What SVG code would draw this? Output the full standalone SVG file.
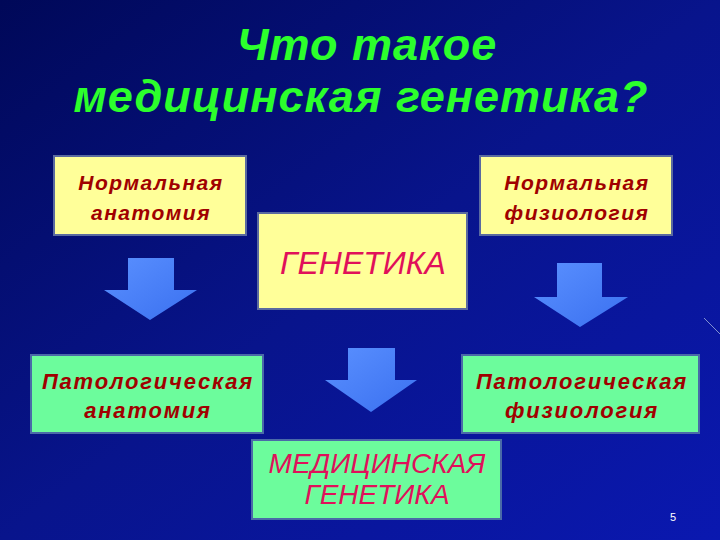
<svg xmlns="http://www.w3.org/2000/svg" width="720" height="540" viewBox="0 0 720 540">
<defs>
<linearGradient id="bg" x1="0" y1="0" x2="1" y2="1">
<stop offset="0" stop-color="#000858"/>
<stop offset="0.5" stop-color="#08148c"/>
<stop offset="1" stop-color="#0a18b0"/>
</linearGradient>
<linearGradient id="arr" x1="0" y1="0" x2="1" y2="1">
<stop offset="0" stop-color="#5a90ff"/>
<stop offset="1" stop-color="#3a70f0"/>
</linearGradient>
<style>
.title{font-family:"Liberation Sans",Arial,sans-serif;font-weight:bold;font-style:italic;font-size:45px;letter-spacing:1px;fill:#2cff2c;text-anchor:middle}
.yb{fill:#ffff99;stroke:#5a6aa0;stroke-width:2}
.gb{fill:#6cfc9c;stroke:#4a6aa8;stroke-width:2}
.lbl{font-family:"Liberation Sans",Arial,sans-serif;font-weight:bold;font-style:italic;font-size:21px;letter-spacing:1.5px;fill:#a00000;text-anchor:middle}
.pl{font-size:22px;letter-spacing:1.8px}
.big{font-family:"Liberation Sans",Arial,sans-serif;font-style:italic;fill:#e0105a;text-anchor:middle}
.arrow{fill:url(#arr)}
</style>
</defs>
<rect width="720" height="540" fill="url(#bg)"/>
<line x1="704" y1="318" x2="720" y2="334" stroke="#8090d0" stroke-width="1"/>
<text class="title" x="367" y="60">Что такое</text>
<text class="title" x="361" y="112">медицинская генетика?</text>
<g id="norm-anat"><rect class="yb" x="54" y="156" width="192" height="79"/><text class="lbl" x="151" y="190">Нормальная</text><text class="lbl" x="151" y="220">анатомия</text></g>
<g id="norm-phys"><rect class="yb" x="480" y="156" width="192" height="79"/><text class="lbl" x="577" y="190">Нормальная</text><text class="lbl" x="577" y="220">физиология</text></g>
<g id="genetika"><rect class="yb" x="258" y="213" width="209" height="96"/><text class="big" x="363" y="274" font-size="32">ГЕНЕТИКА</text></g>
<g id="pat-anat"><rect class="gb" x="31" y="355" width="232" height="78"/><text class="lbl pl" x="148" y="389">Патологическая</text><text class="lbl pl" x="148" y="418">анатомия</text></g>
<g id="pat-phys"><rect class="gb" x="462" y="355" width="237" height="78"/><text class="lbl pl" x="582" y="389">Патологическая</text><text class="lbl pl" x="582" y="418">физиология</text></g>
<g id="med-gen"><rect class="gb" x="252" y="440" width="249" height="79"/><text class="big" x="377" y="473" font-size="28">МЕДИЦИНСКАЯ</text><text class="big" x="377" y="504" font-size="28">ГЕНЕТИКА</text></g>
<g id="connectors">
<polygon class="arrow" points="128,258 174,258 174,290 197,290 150,320 104,290 128,290"/>
<polygon class="arrow" points="557,263 602,263 602,297 628,297 580,327 534,297 557,297"/>
<polygon class="arrow" points="348,348 395,348 395,380 417,380 371,412 325,380 348,380"/>
</g>
<text x="673" y="521" font-family="Liberation Sans,Arial,sans-serif" font-size="11" fill="#ffffff" text-anchor="middle">5</text>
</svg>
